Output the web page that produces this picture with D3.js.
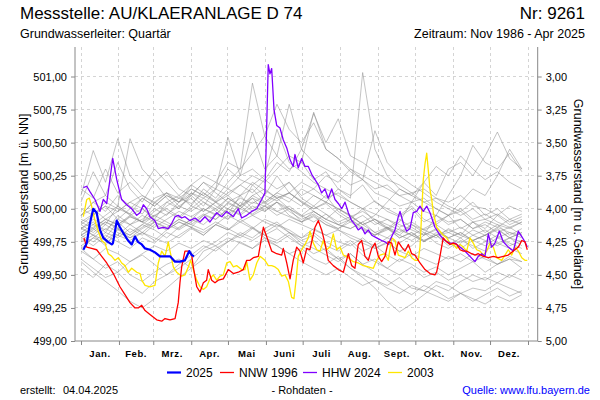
<!DOCTYPE html>
<html><head><meta charset="utf-8">
<script src="https://cdn.jsdelivr.net/npm/d3@7"></script>
<style>
body{margin:0;background:#fff}
svg text{font-family:"Liberation Sans",Arial,sans-serif;fill:#000}
</style>
</head><body>
<svg id="chart" width="600" height="400"></svg>
<script>
// ---------- DATA ----------
const monthLabels = ["Jan.","Feb.","Mrz.","Apr.","Mai","Juni","Juli","Aug.","Sept.","Okt.","Nov.","Dez."];
const monthStarts = [0,31,59,90,120,151,181,212,243,273,304,334,365];
const levelTicks = [499.00,499.25,499.50,499.75,500.00,500.25,500.50,500.75,501.00];
const depthTicks = [3.00,3.25,3.50,3.75,4.00,4.25,4.50,4.75,5.00];
const groundLevel = 504.00;

const greyDays = [0,10,20,30,40,50,60,70,80,90,100,110,120,130,140,150,160,170,180,190,200,210,220,230,240,250,260,270,280,290,300,310,320,330,340,350,360];
const greyYears = [
[499.85,499.92,499.88,500.02,499.95,499.90,500.05,499.98,499.93,500.00,500.08,500.02,499.96,500.10,500.15,500.05,500.12,500.20,500.08,500.02,500.10,499.98,499.92,500.00,499.90,499.85,499.92,499.86,499.80,499.84,499.78,499.82,499.76,499.80,499.85,499.78,499.82],
[500.05,500.28,500.10,500.35,500.15,500.05,500.20,500.08,500.00,500.12,500.05,499.98,500.08,500.02,500.18,500.10,500.25,500.12,500.05,499.98,499.92,500.00,499.95,499.88,499.92,499.85,499.80,499.88,499.82,499.78,499.85,499.80,499.90,499.85,499.95,499.88,499.92],
[499.70,499.62,499.55,499.60,499.50,499.45,499.52,499.58,499.62,499.55,499.68,499.72,499.65,499.75,499.70,499.78,499.72,499.66,499.70,499.62,499.58,499.64,499.55,499.50,499.46,499.42,499.48,499.40,499.38,499.45,499.42,499.36,499.40,499.38,499.44,499.40,499.36],
[499.60,499.52,499.45,499.38,499.30,499.25,499.32,499.40,499.48,499.55,499.62,499.70,499.75,499.82,499.78,499.85,499.90,499.82,499.76,499.80,499.72,499.68,499.74,499.65,499.60,499.55,499.62,499.58,499.52,499.56,499.50,499.55,499.60,499.52,499.58,499.62,499.55],
[499.90,499.85,499.92,499.88,499.95,500.00,499.92,500.05,500.10,500.02,500.15,500.08,500.20,500.30,500.95,500.55,500.40,500.30,500.35,500.22,500.28,500.15,500.10,500.18,500.05,500.00,499.95,500.02,499.92,499.88,499.95,499.85,499.90,499.82,499.88,499.80,499.85],
[499.95,500.05,499.98,500.10,500.02,499.96,500.08,500.12,500.05,500.18,500.25,500.20,500.35,500.30,500.42,500.55,500.79,500.60,500.50,500.65,500.45,500.38,500.30,500.25,500.20,500.15,500.10,500.12,500.05,500.08,500.02,499.98,500.05,499.95,500.00,499.92,499.96],
[499.80,499.85,499.78,499.90,499.82,499.88,499.95,499.90,499.85,499.92,500.00,499.95,500.05,500.00,500.10,500.05,500.12,500.08,500.02,500.10,500.05,500.15,500.08,501.03,500.45,500.25,500.15,500.10,500.05,500.00,499.95,499.98,499.90,499.92,499.88,499.85,499.90],
[499.88,499.95,500.02,499.92,500.00,500.08,500.02,500.10,500.05,500.15,500.10,500.20,500.15,500.25,500.30,500.22,500.35,500.28,500.45,500.72,500.50,500.68,500.40,500.35,500.28,500.22,500.18,500.12,500.15,500.08,500.05,500.10,500.02,500.00,499.95,500.02,499.98],
[499.75,499.80,499.72,499.85,499.78,499.82,499.90,499.85,499.92,499.88,499.95,500.00,499.92,500.05,499.98,500.02,499.95,500.00,499.90,499.95,499.88,499.85,499.92,499.86,499.80,499.84,499.90,500.05,500.20,500.10,500.30,500.35,500.25,500.40,500.58,500.38,500.30],
[499.70,499.78,499.85,499.80,499.88,499.82,499.76,499.84,499.90,499.86,499.80,499.88,499.95,499.90,499.85,499.92,499.88,499.82,499.78,499.85,499.80,499.75,499.72,499.78,499.70,499.75,499.68,499.72,499.80,499.95,500.10,500.25,500.48,500.35,500.30,500.42,500.28],
[500.10,500.44,500.20,500.53,500.25,500.15,500.30,500.20,500.10,500.18,500.12,500.05,500.10,500.02,500.08,499.98,500.05,499.95,499.90,499.98,499.92,499.88,499.85,499.90,499.82,499.78,499.85,499.80,499.75,499.82,499.78,499.74,499.80,499.76,499.72,499.78,499.75],
[499.95,500.05,500.10,500.02,500.53,500.30,500.20,500.28,500.15,500.10,500.20,500.12,500.05,500.10,500.00,500.05,499.98,500.02,499.95,499.90,499.96,499.88,499.92,499.85,499.80,499.86,499.78,499.82,499.75,499.80,499.72,499.78,499.70,499.75,499.80,499.72,499.76],
[499.85,499.90,499.82,499.95,499.88,499.92,500.00,499.95,500.05,500.10,500.02,500.15,500.54,500.25,500.58,500.30,500.40,500.79,500.45,500.35,500.30,500.25,500.18,500.22,500.12,500.08,500.02,500.05,499.98,499.95,499.90,499.92,499.85,499.88,499.82,499.86,499.80],
[499.80,499.75,499.82,499.78,499.85,499.80,499.88,499.84,499.90,499.86,499.95,499.92,500.00,499.96,500.05,500.02,500.08,500.00,499.95,500.02,499.96,499.90,499.94,499.88,499.82,499.86,499.80,499.76,499.82,499.74,499.70,499.76,499.72,499.68,499.74,499.70,499.66],
[500.00,499.95,500.05,500.00,499.96,500.08,500.02,500.10,500.05,500.12,500.08,500.15,500.10,500.18,500.12,500.22,500.15,500.20,500.10,500.15,500.08,500.12,500.05,500.00,500.06,499.98,499.94,500.00,499.90,499.95,499.88,499.92,499.85,499.90,499.86,499.92,499.88],
[499.78,499.72,499.80,499.75,499.70,499.78,499.74,499.82,499.78,499.85,499.80,499.88,499.84,499.92,499.86,499.80,499.85,499.78,499.72,499.76,499.68,499.62,499.66,499.58,499.52,499.46,499.40,499.35,499.42,499.38,499.32,499.36,499.30,499.35,499.40,499.34,499.38],
[499.85,499.80,499.88,499.82,499.78,499.85,499.90,499.86,499.92,499.88,499.84,499.90,499.85,499.80,499.86,499.78,499.74,499.80,499.72,499.66,499.70,499.62,499.55,499.48,499.40,499.30,499.22,499.28,499.35,499.42,499.38,499.45,499.50,499.46,499.52,499.48,499.55],
[499.62,499.55,499.48,499.52,499.42,499.36,499.45,499.50,499.58,499.65,499.72,499.68,499.75,499.80,499.76,499.82,499.88,499.84,499.78,499.82,499.75,499.70,499.76,499.68,499.72,499.65,499.60,499.66,499.62,499.58,499.64,499.60,499.66,499.62,499.58,499.64,499.60],
[499.92,499.88,499.95,500.02,499.96,499.90,499.95,500.00,499.94,500.02,499.98,500.05,500.00,500.08,500.04,500.10,500.06,500.12,500.05,500.00,500.04,499.96,499.90,499.95,499.88,499.92,499.86,499.90,499.84,499.88,499.82,499.86,499.80,499.84,499.78,499.82,499.78],
[499.88,499.82,499.90,499.85,499.80,499.86,499.92,499.88,499.84,499.90,499.96,499.92,500.00,499.95,500.02,499.98,500.05,500.00,499.94,499.98,499.92,499.88,499.85,499.90,499.95,500.05,500.15,500.10,500.20,500.32,500.25,500.40,500.30,500.22,500.28,500.20,500.15],
[499.78,499.84,499.90,499.86,499.94,499.90,499.98,500.05,500.00,500.10,500.20,500.15,500.30,500.22,500.18,500.25,500.60,500.35,500.28,500.20,500.15,500.10,500.05,500.00,499.96,499.92,499.88,499.84,499.80,499.85,499.78,499.82,499.76,499.80,499.74,499.78,499.72],
[499.55,499.48,499.58,499.52,499.60,499.65,499.58,499.50,499.55,499.62,499.70,499.75,499.82,499.78,499.85,499.80,499.76,499.82,499.74,499.70,499.65,499.60,499.66,499.58,499.62,499.55,499.50,499.56,499.48,499.52,499.46,499.50,499.45,499.48,499.44,499.50,499.46],
[499.82,499.88,499.84,499.92,499.88,499.95,499.90,499.96,500.02,499.98,500.05,500.00,500.08,500.02,500.10,500.15,500.08,500.12,500.20,500.15,500.25,500.20,500.30,500.22,500.59,500.35,500.25,500.18,500.12,500.05,500.00,499.95,500.00,499.92,499.96,499.90,499.94],
[499.72,499.78,499.74,499.80,499.76,499.82,499.78,499.74,499.80,499.86,499.82,499.88,499.84,499.90,499.95,499.90,499.86,499.92,499.88,499.84,499.80,499.84,499.78,499.74,499.70,499.74,499.68,499.64,499.70,499.66,499.62,499.66,499.60,499.64,499.58,499.62,499.60],
[499.90,499.96,500.02,499.98,500.05,500.10,500.04,500.12,500.08,500.15,500.10,500.05,500.12,500.18,500.25,500.20,500.30,500.40,500.35,500.73,500.45,500.38,500.28,500.22,500.15,500.18,500.10,500.05,500.08,500.00,499.95,500.00,499.92,499.96,499.90,499.86,499.90],
[499.68,499.62,499.70,499.66,499.60,499.66,499.72,499.68,499.74,499.70,499.76,499.72,499.78,499.74,499.70,499.76,499.72,499.66,499.60,499.55,499.50,499.55,499.48,499.42,499.46,499.40,499.36,499.42,499.38,499.34,499.30,499.36,499.32,499.28,499.34,499.30,499.35],
[500.15,500.08,500.30,500.12,500.20,500.10,500.05,500.12,500.02,500.08,499.98,500.05,499.96,500.02,499.95,500.00,500.05,499.98,499.92,499.96,499.90,499.85,499.90,499.84,499.80,499.85,499.78,499.82,499.76,499.80,499.82,499.78,499.84,499.80,499.86,499.82,499.80],
[499.80,499.86,499.92,499.88,499.94,499.90,499.86,499.92,499.98,499.94,500.00,499.96,500.04,500.00,499.96,500.02,499.98,499.94,499.90,499.94,499.88,499.84,499.80,499.76,499.72,499.78,499.74,499.80,499.85,499.90,499.95,500.05,500.15,500.10,500.25,500.45,500.30],
[499.95,500.00,499.92,499.98,500.05,500.00,499.94,500.02,500.08,500.04,500.12,500.06,500.15,500.10,500.20,500.14,500.08,500.12,500.06,500.00,500.05,500.00,499.95,499.88,499.92,499.86,499.82,499.88,499.84,499.80,499.84,499.80,499.76,499.80,499.84,499.78,499.82],
[499.86,499.80,499.76,499.84,499.80,499.88,499.84,499.78,499.86,499.92,499.88,499.96,499.92,500.00,500.08,500.04,500.10,500.05,500.15,500.10,500.05,500.00,499.94,499.98,499.92,499.88,499.84,499.80,499.76,499.80,499.74,499.70,499.76,499.72,499.78,499.74,499.70]
];

// highlighted years: [day of year, level m ü. NN]
const series2003 = [[1.9,499.94],[4.7,500.07],[6.8,500.08],[8.7,500.02],[11.4,499.91],[14.1,499.83],[16.9,499.76],[19.6,499.74],[22.3,499.66],[25.1,499.64],[27.8,499.61],[30.5,499.63],[33.2,499.59],[35.9,499.57],[38.6,499.52],[41.4,499.55],[45.5,499.52],[48.2,499.51],[49.6,499.46],[52.3,499.42],[56.3,499.41],[60.4,499.42],[63.1,499.59],[65.9,499.68],[68.6,499.64],[71.3,499.75],[72.7,499.68],[75.4,499.56],[78.1,499.52],[82.2,499.49],[84.9,499.50],[87.6,499.56],[89.6,499.61],[91.7,499.54],[94.5,499.46],[97.2,499.41],[99.9,499.39],[102.6,499.41],[105.3,499.47],[108.0,499.50],[110.8,499.46],[113.5,499.49],[116.2,499.50],[119.0,499.59],[121.7,499.60],[124.4,499.56],[127.1,499.57],[131.2,499.54],[133.9,499.54],[135.3,499.60],[138.0,499.46],[140.7,499.50],[143.5,499.59],[146.2,499.64],[150.2,499.61],[152.9,499.57],[155.7,499.57],[158.4,499.56],[161.1,499.54],[163.9,499.49],[166.6,499.50],[169.3,499.45],[172.0,499.33],[173.9,499.32],[175.6,499.46],[177.4,499.64],[180.2,499.69],[182.9,499.73],[185.6,499.78],[187.0,499.83],[189.7,499.74],[192.5,499.69],[195.2,499.68],[197.8,499.76],[200.6,499.69],[203.3,499.71],[206.0,499.81],[208.8,499.69],[211.5,499.71],[214.2,499.65],[218.3,499.63],[222.3,499.60],[226.4,499.59],[230.5,499.57],[234.6,499.56],[238.7,499.55],[241.4,499.61],[244.1,499.65],[248.2,499.66],[250.9,499.61],[253.7,499.78],[256.4,499.76],[259.1,499.65],[261.9,499.64],[264.6,499.63],[267.3,499.68],[270.0,499.63],[272.7,499.61],[275.4,499.61],[276.8,499.71],[278.2,499.97],[279.5,500.22],[280.9,500.34],[282.3,500.42],[283.6,500.29],[285.0,500.14],[286.4,500.07],[287.7,499.97],[290.4,499.86],[293.1,499.83],[295.8,499.80],[298.6,499.78],[301.3,499.74],[304.0,499.73],[306.8,499.70],[309.5,499.73],[312.2,499.71],[314.9,499.68],[317.6,499.78],[320.3,499.74],[323.1,499.69],[325.8,499.68],[328.5,499.65],[331.3,499.68],[334.0,499.74],[336.7,499.71],[339.4,499.63],[343.5,499.61],[346.2,499.65],[348.9,499.69],[351.7,499.65],[354.4,499.71],[357.1,499.68],[359.9,499.63],[362.5,499.61],[364.4,499.61]];

const series2024 = [[1.9,500.16],[4.7,500.17],[7.3,500.13],[11.4,500.07],[15.5,499.98],[18.2,500.07],[21.0,500.04],[25.9,500.38],[29.2,500.22],[31.8,500.12],[33.2,500.07],[37.3,500.03],[41.4,500.00],[45.5,499.95],[48.2,499.97],[50.9,500.03],[53.6,500.00],[56.3,499.94],[60.4,499.91],[63.1,499.85],[67.2,499.86],[71.3,499.85],[74.1,499.89],[76.8,499.94],[79.4,499.95],[82.2,499.93],[84.9,499.94],[89.0,499.91],[93.1,499.93],[97.2,499.90],[101.2,499.94],[105.3,499.90],[110.8,499.97],[114.9,499.94],[119.0,499.98],[124.4,499.94],[128.4,500.00],[131.2,499.93],[135.3,499.95],[139.4,499.98],[143.5,500.00],[147.5,500.07],[150.2,500.12],[151.6,500.62],[152.9,501.09],[154.3,501.02],[155.7,501.06],[157.6,500.75],[159.8,500.63],[162.5,500.61],[165.2,500.52],[168.0,500.46],[170.7,500.37],[173.3,500.32],[174.7,500.41],[177.4,500.31],[180.2,500.38],[182.9,500.32],[185.6,500.32],[188.4,500.26],[191.1,500.22],[193.8,500.18],[196.5,500.12],[199.2,500.15],[201.9,500.08],[204.7,500.15],[207.4,500.07],[210.1,500.04],[212.9,500.00],[215.6,500.05],[218.3,499.97],[221.0,499.91],[223.7,499.88],[226.4,499.84],[229.2,499.86],[231.9,499.81],[234.6,499.84],[237.4,499.80],[241.4,499.78],[245.5,499.76],[248.2,499.75],[250.9,499.73],[253.7,499.79],[256.4,499.84],[259.1,499.94],[260.5,499.98],[263.2,499.89],[265.9,499.83],[268.6,499.85],[271.3,499.97],[274.1,499.98],[276.8,500.02],[279.5,499.98],[282.3,500.02],[285.0,499.97],[289.0,499.86],[293.1,499.80],[297.2,499.76],[301.3,499.74],[305.4,499.74],[309.5,499.71],[313.5,499.68],[317.6,499.64],[321.7,499.60],[324.4,499.64],[327.2,499.66],[329.9,499.64],[332.6,499.81],[335.3,499.71],[338.0,499.74],[341.6,499.83],[344.8,499.75],[348.9,499.71],[353.0,499.68],[357.1,499.83],[359.9,499.79],[362.5,499.75],[364.4,499.71]];

const series1996 = [[2.4,499.78],[4.7,499.71],[8.7,499.70],[12.8,499.69],[16.9,499.64],[21.0,499.59],[26.4,499.51],[31.8,499.41],[35.9,499.35],[40.0,499.29],[44.1,499.25],[46.8,499.25],[49.6,499.27],[52.3,499.23],[56.3,499.20],[61.8,499.16],[65.9,499.15],[68.6,499.17],[72.7,499.16],[76.8,499.17],[79.4,499.29],[80.8,499.44],[82.2,499.56],[84.9,499.68],[87.6,499.68],[90.4,499.65],[91.7,499.56],[94.5,499.41],[97.2,499.37],[99.9,499.44],[102.6,499.46],[103.9,499.54],[106.7,499.46],[109.4,499.44],[112.1,499.46],[116.2,499.47],[120.3,499.54],[124.4,499.51],[128.4,499.52],[132.5,499.54],[135.3,499.61],[138.0,499.61],[140.7,499.63],[144.8,499.64],[148.9,499.86],[151.6,499.79],[155.7,499.68],[159.8,499.66],[163.9,499.65],[165.2,499.70],[168.0,499.59],[170.7,499.47],[173.3,499.61],[176.1,499.71],[178.8,499.68],[181.5,499.59],[184.3,499.70],[186.9,499.69],[191.1,499.86],[193.8,499.91],[196.5,499.84],[199.2,499.74],[201.9,499.61],[206.0,499.57],[210.1,499.54],[214.2,499.52],[218.3,499.66],[221.0,499.57],[223.7,499.55],[226.4,499.73],[229.2,499.76],[231.9,499.64],[234.6,499.61],[237.4,499.70],[240.1,499.74],[242.8,499.64],[245.5,499.60],[248.2,499.64],[250.9,499.75],[253.7,499.74],[256.4,499.65],[259.1,499.75],[261.9,499.71],[264.6,499.68],[267.3,499.73],[270.0,499.66],[272.7,499.65],[276.8,499.59],[280.9,499.54],[285.0,499.51],[289.0,499.50],[290.4,499.52],[293.1,499.64],[295.8,499.78],[298.6,499.75],[301.3,499.73],[304.0,499.74],[306.8,499.73],[309.5,499.69],[312.2,499.68],[314.9,499.68],[319.0,499.66],[321.7,499.65],[324.4,499.66],[328.5,499.64],[332.6,499.63],[336.7,499.64],[340.7,499.63],[344.8,499.64],[348.9,499.65],[353.0,499.68],[357.1,499.71],[359.9,499.76],[362.5,499.75],[364.4,499.69]];

const series2025 = [[1.9,499.69],[4.7,499.74],[7.3,499.89],[10.0,500.00],[12.8,499.97],[15.5,499.84],[18.2,499.78],[22.0,499.75],[25.1,499.73],[26.1,499.74],[29.2,499.91],[31.8,499.86],[34.3,499.82],[38.4,499.76],[41.4,499.73],[44.1,499.79],[46.5,499.75],[49.6,499.73],[52.3,499.70],[56.3,499.69],[60.4,499.67],[64.5,499.64],[68.6,499.64],[72.7,499.64],[76.8,499.60],[80.8,499.60],[84.9,499.61],[88.4,499.68],[90.4,499.65],[92.3,499.64]];

const highlightOrder = [
  {label:"2003", data:series2003, color:"#ffe600", width:1.3},
  {label:"HHW 2024", data:series2024, color:"#8000ff", width:1.3},
  {label:"NNW 1996", data:series1996, color:"#ff0000", width:1.3},
  {label:"2025", data:series2025, color:"#0000ff", width:2.2}
];
const legendItems = ["2025","NNW 1996","HHW 2024","2003"];

// ---------- LAYOUT ----------
const svg = d3.select("#chart");
const plot = {left:75, right:537.7, top:47, bottom:341};
const x = d3.scaleLinear().domain([0,365]).range([81,528]);
const y = d3.scaleLinear().domain([499,501]).range([341,76.5]);
const yDepth = d3.scaleLinear().domain([groundLevel-499, groundLevel-501]).range([341,76.5]);
const axisColor = "#888";
const fmt = v => v.toFixed(2).replace(".",",");

svg.append("clipPath").attr("id","clip").append("rect")
  .attr("x",plot.left).attr("y",plot.top).attr("width",plot.right-plot.left).attr("height",plot.bottom-plot.top);

// grid
const grid = svg.append("g");
grid.selectAll("line.h").data(levelTicks.filter(v=>v>499)).join("line")
  .attr("x1",plot.left).attr("x2",plot.right)
  .attr("y1",d=>y(d)).attr("y2",d=>y(d))
  .attr("stroke","#d4d4d4").attr("stroke-dasharray","3,3").attr("shape-rendering","crispEdges");
grid.selectAll("line.v").data(monthStarts).join("line")
  .attr("x1",d=>x(d)).attr("x2",d=>x(d))
  .attr("y1",plot.top).attr("y2",plot.bottom)
  .attr("stroke","#d4d4d4").attr("stroke-dasharray","3,3").attr("shape-rendering","crispEdges");

// lines
const lineGen = d3.line().x(d=>x(d[0])).y(d=>y(d[1]));
const lines = svg.append("g").attr("clip-path","url(#clip)");
lines.selectAll("path.grey").data(greyYears).join("path")
  .attr("d", vals => lineGen(vals.map((v,i)=>[greyDays[i], v])))
  .attr("fill","none").attr("stroke","#8a8a8a").attr("stroke-opacity",0.5).attr("stroke-width",1);
lines.selectAll("path.hl").data(highlightOrder).join("path")
  .attr("d", s => lineGen(s.data))
  .attr("fill","none").attr("stroke",s=>s.color).attr("stroke-width",s=>s.width)
  .attr("stroke-linejoin","round");

// axes
const leftAxis = svg.append("g").attr("transform",`translate(${plot.left},0)`)
  .call(d3.axisLeft(y).tickValues(levelTicks).tickSize(4).tickPadding(4).tickFormat(fmt));
const rightAxis = svg.append("g").attr("transform",`translate(${plot.right},0)`)
  .call(d3.axisRight(yDepth).tickValues(depthTicks).tickSize(4).tickPadding(4).tickFormat(fmt));
const bottomAxis = svg.append("g").attr("transform",`translate(0,${plot.bottom})`)
  .call(d3.axisBottom(x).tickValues(monthStarts).tickSize(4).tickFormat(""));
[leftAxis,rightAxis,bottomAxis].forEach(g=>{
  g.select(".domain").remove();
  g.selectAll(".tick line").attr("stroke",axisColor);
  g.selectAll(".tick text").attr("font-size",11).attr("font-family","Liberation Sans, Arial, sans-serif").attr("fill","#000");
});
svg.append("line").attr("x1",plot.left).attr("x2",plot.left).attr("y1",plot.top).attr("y2",plot.bottom).attr("stroke",axisColor);
svg.append("line").attr("x1",plot.right).attr("x2",plot.right).attr("y1",plot.top).attr("y2",plot.bottom).attr("stroke",axisColor);
svg.append("line").attr("x1",plot.left).attr("x2",plot.right).attr("y1",plot.bottom).attr("y2",plot.bottom).attr("stroke",axisColor);

// month labels
svg.append("g").selectAll("text").data(monthLabels).join("text")
  .attr("x",(d,i)=>x((monthStarts[i]+monthStarts[i+1])/2))
  .attr("y",357).attr("text-anchor","middle")
  .attr("font-size",9.5).attr("font-weight","bold").attr("letter-spacing",0.6)
  .text(d=>d);

// axis titles
svg.append("text").attr("transform","translate(28,194) rotate(-90)")
  .attr("text-anchor","middle").attr("font-size",12.5).text("Grundwasserstand [m ü. NN]");
svg.append("text").attr("transform","translate(574,194) rotate(90)")
  .attr("text-anchor","middle").attr("font-size",12.5).text("Grundwasserstand [m u. Gelände]");

// titles
svg.append("text").attr("x",20).attr("y",19).attr("font-size",17).text("Messstelle: AU/KLAERANLAGE D 74");
svg.append("text").attr("x",585).attr("y",19).attr("font-size",17).attr("text-anchor","end").text("Nr: 9261");
svg.append("text").attr("x",20).attr("y",38).attr("font-size",12.5).text("Grundwasserleiter: Quartär");
svg.append("text").attr("x",585).attr("y",38).attr("font-size",12.5).attr("text-anchor","end").text("Zeitraum: Nov 1986 - Apr 2025");

// legend
const legendX = [167,220,303,388];
const lg = svg.append("g").selectAll("g").data(legendItems).join("g")
  .attr("transform",(d,i)=>`translate(${legendX[i]},0)`);
lg.append("line").attr("x1",0).attr("x2",14).attr("y1",372.5).attr("y2",372.5)
  .attr("stroke",d=>highlightOrder.find(s=>s.label===d).color)
  .attr("stroke-width",d=>d==="2025"?2.2:1.3);
lg.append("text").attr("x",19).attr("y",377).attr("font-size",12).text(d=>d);

// footer
svg.append("text").attr("x",20).attr("y",394).attr("font-size",11).text("erstellt:");
svg.append("text").attr("x",63).attr("y",394).attr("font-size",11).text("04.04.2025");
svg.append("text").attr("x",302).attr("y",394).attr("font-size",11).attr("text-anchor","middle").text("- Rohdaten -");
svg.append("text").attr("x",590).attr("y",394).attr("font-size",11).attr("text-anchor","end").style("fill","#0000ff").text("Quelle: www.lfu.bayern.de");
</script>
</body></html>
